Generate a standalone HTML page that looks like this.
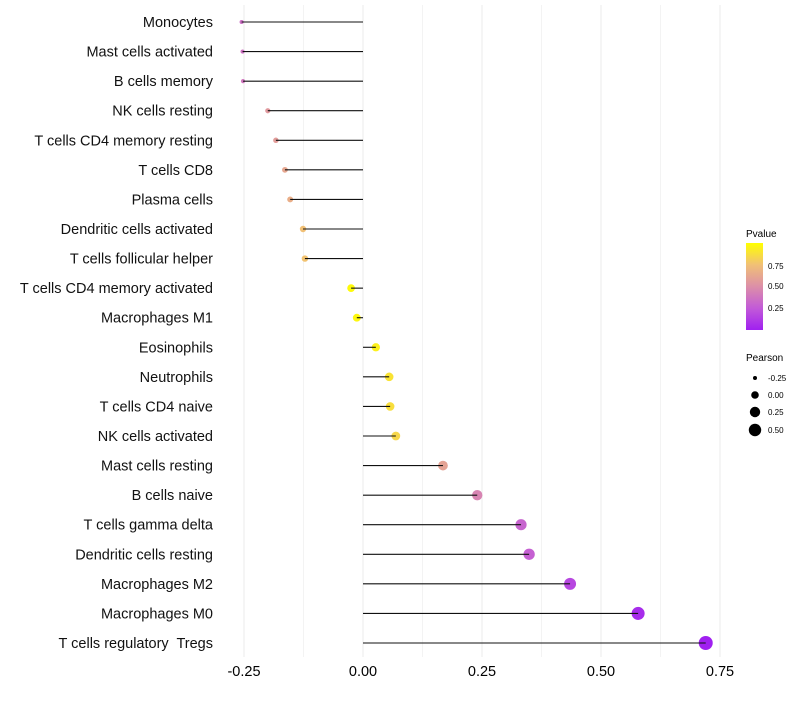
<!DOCTYPE html>
<html><head><meta charset="utf-8"><style>
body{margin:0;background:#fff;font-family:"Liberation Sans",sans-serif}
</style></head><body>
<svg id="chart" width="800" height="700" xmlns="http://www.w3.org/2000/svg">
<defs><linearGradient id="pg" x1="0" y1="1" x2="0" y2="0">
<stop offset="0" stop-color="#A020F0"/><stop offset="0.25" stop-color="#C25AD8"/><stop offset="0.5" stop-color="#DC8FA8"/><stop offset="0.75" stop-color="#F1C076"/><stop offset="1" stop-color="#FFFF00"/></linearGradient></defs>
<g id="grid"></g><g id="marks"></g><g id="labels"></g>
<g>
<text x="746" y="237" font-size="10">Pvalue</text>
<rect x="746" y="243" width="17" height="87" fill="url(#pg)"/>
<text x="768" y="269" font-size="8">0.75</text>
<text x="768" y="289" font-size="8">0.50</text>
<text x="768" y="311" font-size="8">0.25</text>
<text x="746" y="361" font-size="10">Pearson</text>
<circle cx="755" cy="378" r="2" fill="#000"/><text x="768" y="381" font-size="8">-0.25</text>
<circle cx="755" cy="395" r="3.8" fill="#000"/><text x="768" y="398" font-size="8">0.00</text>
<circle cx="755" cy="412" r="5.2" fill="#000"/><text x="768" y="415" font-size="8">0.25</text>
<circle cx="755" cy="430" r="6.2" fill="#000"/><text x="768" y="433" font-size="8">0.50</text>
</g>
</svg>
<script>
const cells=["Monocytes","Mast cells activated","B cells memory","NK cells resting","T cells CD4 memory resting","T cells CD8","Plasma cells","Dendritic cells activated","T cells follicular helper","T cells CD4 memory activated","Macrophages M1","Eosinophils","Neutrophils","T cells CD4 naive","NK cells activated","Mast cells resting","B cells naive","T cells gamma delta","Dendritic cells resting","Macrophages M2","Macrophages M0","T cells regulatory  Tregs"];
const pearson=[-0.255,-0.253,-0.252,-0.20,-0.183,-0.164,-0.153,-0.126,-0.122,-0.025,-0.013,0.027,0.055,0.057,0.069,0.168,0.24,0.332,0.349,0.435,0.578,0.72];
const pvalue=[0.35,0.36,0.38,0.55,0.57,0.62,0.66,0.75,0.76,0.98,0.97,0.94,0.89,0.87,0.84,0.6,0.45,0.3,0.28,0.17,0.05,0.0];
const xTicks=[-0.25,0,0.25,0.5,0.75];
const xTickLabels=["-0.25","0.00","0.25","0.50","0.75"];
const NS="http://www.w3.org/2000/svg";
const X=v=>363+v*476;
const Y=i=>22+i*(621/21);
const R=v=>Math.sqrt(4+Math.max(0,v+0.26)*46);
const stops=[[0,[160,32,240]],[0.25,[194,90,216]],[0.5,[220,143,168]],[0.75,[241,192,118]],[1,[255,255,0]]];
function col(p){for(let k=1;k<stops.length;k++){if(p<=stops[k][0]){const a=stops[k-1],b=stops[k],t=(p-a[0])/(b[0]-a[0]);return "rgb("+a[1].map((c,j)=>Math.round(c+(b[1][j]-c)*t)).join(",")+")";}}return "rgb(255,255,0)";}
function mk(t,a,parent){const e=document.createElementNS(NS,t);for(const k in a)e.setAttribute(k,a[k]);parent.appendChild(e);return e;}
const grid=document.getElementById("grid"),marks=document.getElementById("marks"),labels=document.getElementById("labels");
for(let i=0;i<xTicks.length;i++){
 const l=mk("line",{x1:X(xTicks[i]),x2:X(xTicks[i]),y1:5,y2:657,stroke:"#ebebeb","stroke-width":1},grid);
 
 
 if(i<xTicks.length-1){const m=mk("line",{x1:X((xTicks[i]+xTicks[i+1])/2),x2:X((xTicks[i]+xTicks[i+1])/2),y1:5,y2:657,stroke:"#f3f3f3","stroke-width":1},grid);
 
 }
 const t=mk("text",{x:X(xTicks[i]),y:676,"font-size":14.5,"text-anchor":"middle",fill:"#000"},labels);
 t.textContent=xTickLabels[i];
 
 
}
for(let i=0;i<cells.length;i++){
 const c=mk("circle",{cx:X(pearson[i]),cy:Y(i),r:R(pearson[i]),fill:col(pvalue[i])},marks);
 
 
 const s=mk("line",{x1:X(0),x2:X(pearson[i]),y1:Y(i),y2:Y(i),stroke:"#111","stroke-width":1.1},marks);
 
 
 const t=mk("text",{x:213,y:Y(i)+5,"font-size":14.5,"text-anchor":"end",fill:"#111",style:"white-space:pre"},labels);
 t.textContent=cells[i];
 
 
}
</script>
</body></html>
